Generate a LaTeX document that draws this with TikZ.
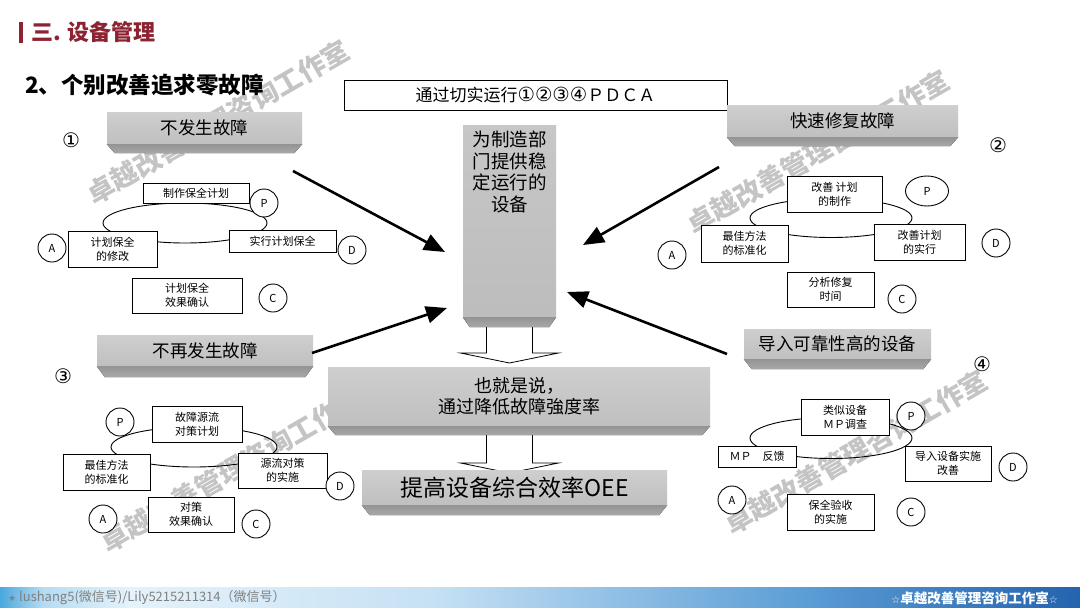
\documentclass[tikz,border=0pt]{standalone}
\usepackage{fontspec}
\newfontfamily\cjk{Noto Sans CJK SC}
\newfontfamily\djv{DejaVu Sans}
\usetikzlibrary{shapes.geometric,arrows.meta,calc}
\definecolor{titlered}{HTML}{8C2332}
\definecolor{fA}{HTML}{4AA8DF}
\definecolor{fB}{HTML}{B5DCF2}
\definecolor{fC}{HTML}{E4F2FB}
\definecolor{fD}{HTML}{C6E1F4}
\definecolor{fE}{HTML}{5C9ED6}
\definecolor{fF}{HTML}{2463AE}
\pgfdeclarehorizontalshading{footershade}{100bp}{color(0bp)=(fA); color(25bp)=(fA); color(27bp)=(fB); color(31bp)=(fC); color(45bp)=(fD); color(62bp)=(fE); color(75bp)=(fF); color(100bp)=(fF)}
\newcommand{\bevelunder}[3]{\fill[bevel] (#1.south west) -- (#1.south east) -- ([xshift=-#2pt,yshift=-#3pt]#1.south east) -- ([xshift=#2pt,yshift=-#3pt]#1.south west) -- cycle;}
\newcommand{\cdig}[1]{{\djv\fontsize{19.5}{20}\selectfont #1}}
\begin{document}
\begin{tikzpicture}[x=1pt,y=-1pt,
  sbox/.style={draw, fill=white, line width=0.9pt, inner sep=0pt, align=center, font=\cjk\fontsize{11}{14}\selectfont},
  circ/.style={circle, draw, fill=white, line width=0.9pt, minimum size=28pt, inner sep=0pt, font=\cjk\fontsize{11}{13}\selectfont},
  loop/.style={ellipse, draw, line width=0.9pt, inner sep=0pt},
  gface/.style={inner sep=0pt, top color=black!19, bottom color=black!25, align=center, font=\cjk\fontsize{17.5}{21}\selectfont},
  bevel/.style={top color=black!42, bottom color=black!34},
  hollow/.style={draw=black, fill=white, line width=0.8pt, line join=miter},
  bigarrow/.style={line width=2.6pt, -{Triangle[length=21pt,width=17pt]}},
  wm/.style={text=black!23, rotate=30, font=\cjk\bfseries\fontsize{27}{27}\selectfont},
  num/.style={font=\djv\fontsize{20}{20}\selectfont, inner sep=1pt}]
\useasboundingbox (0,0) rectangle (1080,608);
\fill[white] (0,0) rectangle (1080,608);

% watermarks (behind)
\node[wm] (wm1) at (218,122) {卓越改善管理咨询工作室};
\node[wm] (wm2) at (818,152) {卓越改善管理咨询工作室};
\node[wm] (wm3) at (232,470) {卓越改善管理咨询工作室};
\node[wm] (wm4) at (856,452) {卓越改善管理咨询工作室};

% title
\fill[titlered] (19,22) rectangle (23,43);
\node[anchor=west, text=titlered, font=\cjk\bfseries\fontsize{22}{24}\selectfont, inner sep=0pt] (title) at (31,32) {三. 设备管理};
\node[anchor=west, font=\cjk\bfseries\fontsize{22.5}{24}\selectfont, inner sep=0pt] (subtitle) at (25,85) {2、个别改善追求零故障};

% top box
\node[draw, line width=0.9pt, minimum width=383pt, minimum height=30pt, inner sep=0pt, font=\cjk\fontsize{17}{20}\selectfont] (pdca) at (535.5,95) {通过切实运行\cdig{①②③④}ＰＤＣＡ};

% hollow arrows
\coordinate (ha) at (509.5,325);
\draw[hollow] ($(ha)+(-23,0)$) -- ($(ha)+(-23,28)$) -- ($(ha)+(-49,28)$) -- ($(ha)+(0,38)$) -- ($(ha)+(49,28)$) -- ($(ha)+(23,28)$) -- ($(ha)+(23,0)$) -- cycle;
\coordinate (hb) at (509.5,433);
\draw[hollow] ($(hb)+(-23,0)$) -- ($(hb)+(-23,30)$) -- ($(hb)+(-49,30)$) -- ($(hb)+(0,40)$) -- ($(hb)+(49,30)$) -- ($(hb)+(23,30)$) -- ($(hb)+(23,0)$) -- cycle;

% central column
\node[gface, top color=black!22, bottom color=black!26, minimum width=93pt, minimum height=192pt] (col) at (509.5,221) {};
\bevelunder{col}{7}{10}
\node[anchor=north, align=center, inner sep=0pt, font=\cjk\fontsize{18.5}{21.5}\selectfont] (coltext) at (509.5,131) {为制造部\\门提供稳\\定运行的\\设备};

% middle and result boxes
\node[gface, minimum width=382pt, minimum height=59pt, font=\cjk\fontsize{18}{21}\selectfont] (mid) at (519,396.5) {也就是说，\\通过降低故障強度率};
\bevelunder{mid}{8}{9}
\node[gface, minimum width=305pt, minimum height=35pt, font=\cjk\fontsize{23}{26}\selectfont] (oee) at (514.5,487.5) {提高设备综合效率OEE};
\bevelunder{oee}{8}{10}

% four gray headers
\node[gface, minimum width=195pt, minimum height=32pt] (g1) at (204.5,128) {不发生故障};
\bevelunder{g1}{8}{9}
\node[gface, minimum width=231pt, minimum height=32pt] (g2) at (842.5,121) {快速修复故障};
\bevelunder{g2}{8}{9}
\node[gface, minimum width=216pt, minimum height=31pt] (g3) at (205,350.5) {不再发生故障};
\bevelunder{g3}{8}{11}
\node[gface, minimum width=187pt, minimum height=30pt] (g4) at (837.5,344) {导入可靠性高的设备};
\bevelunder{g4}{8}{10}

% big arrows
\coordinate (a1s) at (293,171); \coordinate (a1e) at (445,252);
\coordinate (a2s) at (719,167); \coordinate (a2e) at (583,245);
\coordinate (a3s) at (312,353); \coordinate (a3e) at (447,308);
\coordinate (a4s) at (727,354); \coordinate (a4e) at (567,292);
\draw[bigarrow] (a1s) -- (a1e);
\draw[bigarrow] (a2s) -- (a2e);
\draw[bigarrow] (a3s) -- (a3e);
\draw[bigarrow] (a4s) -- (a4e);

% numbers
\node[num] (n1) at (71,140) {①};
\node[num] (n2) at (998,145) {②};
\node[num] (n3) at (63,376) {③};
\node[num] (n4) at (982,364) {④};

% ---- quadrant 1
\node[loop, minimum width=164pt, minimum height=40pt] (e1) at (185,223) {};
\node[sbox, minimum width=106pt, minimum height=20pt] (q1p) at (196,193) {制作保全计划};
\node[sbox, minimum width=89pt, minimum height=36pt] (q1a) at (112.5,249) {计划保全\\的修改};
\node[sbox, minimum width=107pt, minimum height=22pt] (q1d) at (282.5,241) {实行计划保全};
\node[sbox, minimum width=110pt, minimum height=35pt] (q1c) at (187,295.5) {计划保全\\效果确认};
\node[circ] (c1p) at (264,203) {P};
\node[circ] (c1a) at (52,248) {A};
\node[circ] (c1d) at (352,250) {D};
\node[circ] (c1c) at (273,298) {C};

% ---- quadrant 2
\node[loop, minimum width=162pt, minimum height=39pt] (e2) at (831,218) {};
\node[sbox, minimum width=95pt, minimum height=36pt] (q2p) at (834.5,194) {改善 计划\\的制作};
\node[sbox, minimum width=87pt, minimum height=37pt] (q2a) at (744.5,243.5) {最佳方法\\的标准化};
\node[sbox, minimum width=91pt, minimum height=36pt] (q2d) at (919.5,242) {改善计划\\的实行};
\node[sbox, minimum width=87pt, minimum height=35pt] (q2c) at (830.5,289.5) {分析修复\\时间};
\node[ellipse, draw, fill=white, line width=0.9pt, minimum width=43pt, minimum height=30pt, inner sep=0pt, font=\cjk\fontsize{11}{13}\selectfont] (c2p) at (927,191) {P};
\node[circ] (c2a) at (672,255) {A};
\node[circ] (c2d) at (996,243) {D};
\node[circ] (c2c) at (902,299) {C};

% ---- quadrant 3
\node[loop, minimum width=166pt, minimum height=40pt] (e3) at (194,447) {};
\node[sbox, minimum width=90pt, minimum height=36pt] (q3p) at (197,424) {故障源流\\对策计划};
\node[sbox, minimum width=87pt, minimum height=36pt] (q3a) at (106.5,472) {最佳方法\\的标准化};
\node[sbox, minimum width=89pt, minimum height=35pt] (q3d) at (282.5,470.5) {源流对策\\的实施};
\node[sbox, minimum width=86pt, minimum height=35pt] (q3c) at (191,514.5) {对策\\效果确认};
\node[circ] (c3p) at (120,422) {P};
\node[circ] (c3d) at (340,486) {D};
\node[circ] (c3a) at (103,519) {A};
\node[circ] (c3c) at (256,524) {C};

% ---- quadrant 4
\node[loop, minimum width=162pt, minimum height=41pt] (e4) at (831,438) {};
\node[sbox, minimum width=88pt, minimum height=36pt] (q4p) at (845,417) {类似设备\\ＭＰ调查};
\node[sbox, minimum width=78pt, minimum height=21pt] (q4a) at (757,456.5) {ＭＰ　反馈};
\node[sbox, minimum width=86pt, minimum height=35pt] (q4d) at (948,463.5) {导入设备实施\\改善};
\node[sbox, minimum width=87pt, minimum height=36pt] (q4c) at (830.5,512) {保全验收\\的实施};
\node[circ] (c4p) at (911,416) {P};
\node[circ] (c4d) at (1013,467) {D};
\node[circ] (c4a) at (732,500) {A};
\node[circ] (c4c) at (911,512) {C};

% footer
\shade[shading=footershade] (0,587) rectangle (1080,608);
\node[anchor=west, inner sep=0pt, text=black!50, font=\cjk\fontsize{13}{15}\selectfont] (fl) at (8,598) {{\djv\fontsize{9}{10}\selectfont ★} lushang5(微信号)/Lily5215211314（微信号）};
\node[anchor=east, inner sep=0pt, text=white, font=\cjk\bfseries\fontsize{13.5}{15}\selectfont] (fr) at (1058,598) {{\djv\fontsize{10}{11}\selectfont ☆}卓越改善管理咨询工作室{\djv\fontsize{10}{11}\selectfont ☆}};
\end{tikzpicture}
\end{document}
